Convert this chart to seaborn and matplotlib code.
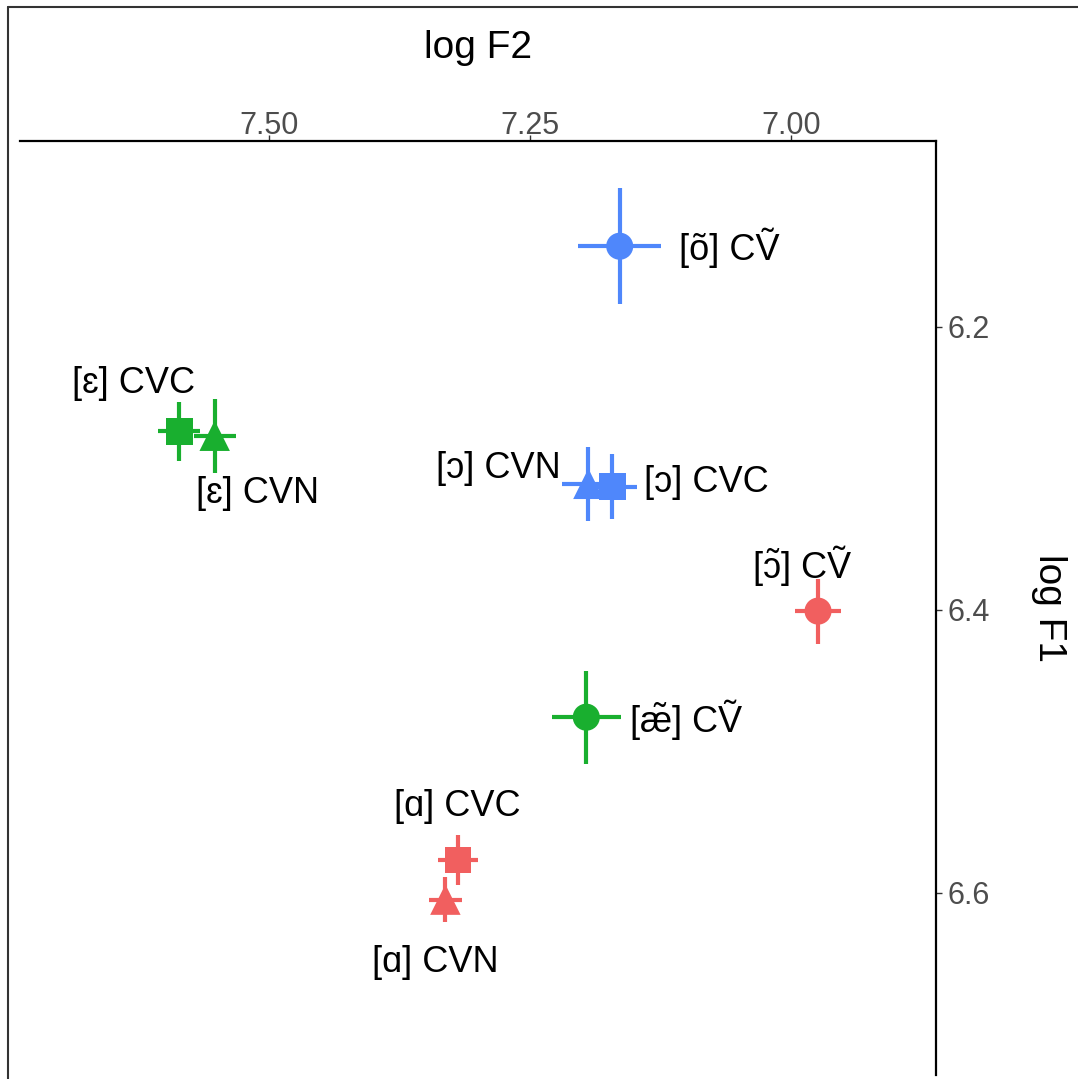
import numpy as np
import pandas as pd
import seaborn as sns
import matplotlib.pyplot as plt
from matplotlib.lines import Line2D

# vowel means (log Hz) with error half-widths
vowel = ['õ', 'ɛ', 'ɛ', 'ɔ', 'ɔ', r'$\tilde{\mathrm{ɔ}}$', r'$\tilde{\mathrm{æ}}$', 'ɑ', 'ɑ']
context = ['CṼ', 'CVC', 'CVN', 'CVN', 'CVC', 'CṼ', 'CṼ', 'CVC', 'CVN']
pair = ['ɔ-õ', 'ɛ-æ̃', 'ɛ-æ̃', 'ɔ-õ', 'ɔ-õ', 'ɑ-ɔ̃', 'ɛ-æ̃', 'ɑ-ɔ̃', 'ɑ-ɔ̃']
f2 = [7.164, 7.586, 7.552, 7.194, 7.171, 6.974, 7.196, 7.319, 7.331]
f1 = [6.143, 6.274, 6.277, 6.311, 6.313, 6.401, 6.476, 6.577, 6.605]
f2_err = [0.040, 0.020, 0.020, 0.025, 0.024, 0.022, 0.033, 0.019, 0.016]
f1_err = [0.041, 0.021, 0.026, 0.026, 0.023, 0.023, 0.033, 0.018, 0.016]

x_ticks = [7.50, 7.25, 7.00]
x_ticklabels = ['7.50', '7.25', '7.00']
y_ticks = [6.2, 6.4, 6.6]
y_ticklabels = ['6.2', '6.4', '6.6']

# label offsets in pixels (dx right, dy down) from each point
label_offsets = [(110, 2), (-46, -48), (43, 58), (-90, -15), (94, -4),
                 (-16, -46), (100, 2), (-1, -54), (-10, 63)]

df = pd.DataFrame({'vowel': vowel, 'context': context, 'pair': pair,
                   'f2': f2, 'f1': f1, 'f2_err': f2_err, 'f1_err': f1_err})

palette = {'ɑ-ɔ̃': '#F15F5F', 'ɛ-æ̃': '#19AF2F', 'ɔ-õ': '#4F87FB'}
markers = {'CṼ': 'o', 'CVC': 's', 'CVN': '^'}
sizes = {'CṼ': 380, 'CVC': 370, 'CVN': 480}

sns.set_theme(style='white')
plt.rcParams['font.family'] = ['Liberation Sans', 'DejaVu Sans']
plt.rcParams['mathtext.fontset'] = 'custom'
plt.rcParams['mathtext.rm'] = 'Liberation Sans'
plt.rcParams['mathtext.it'] = 'Liberation Sans'

fig = plt.figure(figsize=(10.78, 10.79), dpi=100)
ax = fig.add_axes([20 / 1078, 4 / 1079, 916 / 1078, 934 / 1079])

for ctx, sub in df.groupby('context'):
    sns.scatterplot(data=sub, x='f2', y='f1', hue='pair', palette=palette,
                    marker=markers[ctx], s=sizes[ctx], linewidth=0,
                    legend=False, ax=ax, zorder=3)

for _, r in df.iterrows():
    ax.errorbar(r['f2'], r['f1'], xerr=r['f2_err'], yerr=r['f1_err'],
                fmt='none', ecolor=palette[r['pair']], elinewidth=3,
                capsize=0, zorder=4)

for i, r in df.iterrows():
    dx, dy = label_offsets[i]
    ax.annotate(f"[{r['vowel']}] {r['context']}", (r['f2'], r['f1']),
                xytext=(dx * 0.72, -dy * 0.72), textcoords='offset points',
                ha='center', va='center', fontsize=26, color='black')

ax.set_xlim(7.7385, 6.861)
ax.set_ylim(6.729, 6.0686)
ax.xaxis.tick_top()
ax.xaxis.set_label_position('top')
ax.yaxis.tick_right()
ax.yaxis.set_label_position('right')
ax.set_xticks(x_ticks)
ax.set_xticklabels(x_ticklabels)
ax.set_yticks(y_ticks)
ax.set_yticklabels(y_ticklabels)
ax.tick_params(axis='both', length=4, width=1, color='#333333',
               labelsize=22, labelcolor='#4D4D4D', pad=2)
ax.tick_params(axis='x', top=True, bottom=False, pad=-4)
ax.tick_params(axis='y', right=True, left=False, pad=4)

for side in ['left', 'bottom']:
    ax.spines[side].set_visible(False)
for side in ['top', 'right']:
    ax.spines[side].set_color('black')
    ax.spines[side].set_linewidth(1.6)

ax.set_xlabel('log F2', fontsize=28, color='black', labelpad=38)
ax.set_ylabel('log F1', fontsize=28, color='black', rotation=270, labelpad=56)

# outer border (left and top edges)
fig.add_artist(Line2D([8 / 1078, 8 / 1078], [0, 1 - 7 / 1079],
                      transform=fig.transFigure, color='#333333', lw=1.5))
fig.add_artist(Line2D([8 / 1078, 1], [1 - 7 / 1079, 1 - 7 / 1079],
                      transform=fig.transFigure, color='#333333', lw=1.5))

fig.savefig('out.png', dpi=100)
